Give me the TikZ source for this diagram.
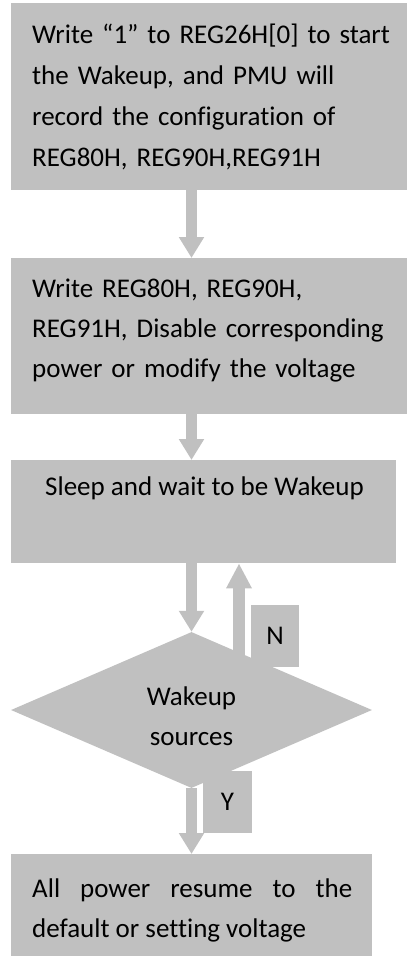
\documentclass[tikz,border=0pt]{standalone}
\usepackage{fontspec}
\setmainfont{Carlito}[Ligatures=NoCommon]
\usetikzlibrary{arrows.meta,shapes.geometric}
\definecolor{boxgray}{RGB}{192,192,192}
\tikzset{
	box/.style={fill=boxgray, inner sep=0pt, anchor=north west},
	txt/.style={anchor=base west, inner sep=0pt, align=left, font=\fontsize{27}{40}\selectfont},
	flow/.style={draw=boxgray, line width=11.5pt, -{Triangle[width=24pt,length=21pt]}},
}
\begin{document}
\begin{tikzpicture}[x=1pt, y=-1pt, line join=round]
	\useasboundingbox (0,0) rectangle (407,956);
	\path
	(191.5,0)coordinate(col)
	(239,0)coordinate(back)
	;
	% boxes
	\node[box, minimum width=396pt, minimum height=187pt] (start) at (11,3) {};
	\node[box, minimum width=396pt, minimum height=156pt] (write) at (11,258) {};
	\node[box, minimum width=385pt, minimum height=103pt] (sleep) at (11,460) {};
	\node[diamond, fill=boxgray, inner sep=0pt, minimum width=361pt, minimum height=156pt] (src) at (191.5,710) {};
	\node[box, minimum width=361pt, minimum height=112pt] (resume) at (11,854) {};
	% arrows
	\draw[flow] (start.south -| col) -- (write.north -| col);
	\draw[flow] (write.south -| col) -- (sleep.north -| col);
	\draw[flow] (sleep.south -| col) -- (src.north);
	\draw[flow, -{Triangle[width=24pt,length=25pt]}] (src.center -| back) -- (sleep.south -| back);
	\draw[flow] (src.south) -- (resume.north -| col);
	% N and Y labels
	\node[box, anchor=center, minimum width=48pt, minimum height=62pt, font=\fontsize{27}{40}\selectfont] (nbox) at (275,636) {N};
	\node[box, anchor=center, minimum width=49pt, minimum height=62pt, font=\fontsize{27}{40}\selectfont] (ybox) at (227.5,802) {Y};
	% texts
	\node[txt, text width=372pt, font=\fontsize{27}{41.3}\selectfont] (startT) at (32,43)
	{Write “1” to REG26H[0] to start\\the Wakeup, and PMU will\\record the configuration of\\REG80H, REG90H,REG91H};
	\node[txt, text width=372pt] (writeT) at (32,297)
	{Write REG80H, REG90H,\\REG91H, Disable corresponding\\power or modify the voltage};
	\node[txt] (sleepT) at (45,495) {Sleep and wait to be Wakeup};
	\node[txt, anchor=base, text width=200pt, align=center] (srcT) at (191.5,705) {Wakeup\\sources};
	\node[txt, text width=320pt, align=justify] (resumeT) at (32,897)
	{All power resume to the\linebreak default or setting voltage};
\end{tikzpicture}
\end{document}
